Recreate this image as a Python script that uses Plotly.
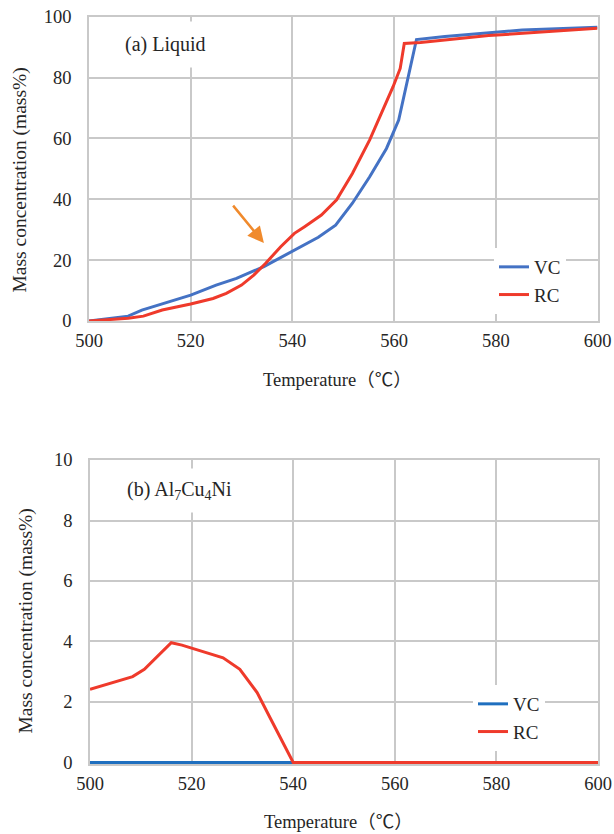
import plotly.graph_objects as go

# ---- (a) Liquid phase ----
liq_vc_temp = [500, 507.7, 510.4, 515, 520, 525, 529, 534.4, 540, 545.1, 548.5, 551.8,
               555.2, 558.5, 560.9, 562.5, 564.4, 570, 579.9, 585.2, 600]
liq_vc_mass = [0, 1.6, 3.6, 6.0, 8.5, 11.8, 14.0, 17.9, 22.8, 27.5, 31.5, 38.7,
               47.4, 56.7, 66.0, 78.0, 92.5, 93.5, 94.9, 95.6, 96.5]

liq_rc_temp = [500, 507.7, 510.7, 514.4, 520, 524.4, 527, 530, 532.4, 534.7, 537.7, 540.4,
               542.4, 545.7, 548.7, 551.8, 555.2, 557.8, 559.8, 561.2, 562, 565.2, 578.6, 600]
liq_rc_mass = [0, 0.9, 1.6, 3.6, 5.6, 7.4, 9.1, 11.8, 15.1, 18.9, 24.4, 28.8,
               31.0, 34.8, 39.8, 48.5, 59.5, 69.3, 77.0, 83.0, 91.2, 91.5, 93.8, 96.2]

# ---- (b) Al7Cu4Ni phase ----
al_vc_temp = [500, 520, 540, 560, 580, 600]
al_vc_mass = [0, 0, 0, 0, 0, 0]

al_rc_temp = [500, 508.4, 510.7, 516, 518.1, 520.8, 526.2, 529.5, 532.9, 535.6, 540, 560, 580, 600]
al_rc_mass = [2.42, 2.84, 3.08, 3.96, 3.88, 3.74, 3.46, 3.08, 2.31, 1.43, 0, 0, 0, 0]

temp_ticks = [500, 520, 540, 560, 580, 600]
liq_ticks = [0, 20, 40, 60, 80, 100]
al_ticks = [0, 2, 4, 6, 8, 10]

W, H = 614, 834
FONT = "Liberation Serif, Noto Sans CJK JP, serif"
TXT = "#262626"
GRID = "#C9C9C9"
RED = "#EF3A2B"


def px(x):
    return x / W


def py(y):
    return 1 - y / H


fig = go.Figure()

fig.add_trace(go.Scatter(x=liq_vc_temp, y=liq_vc_mass, mode="lines", name="VC",
                         line=dict(color="#4472C4", width=3), xaxis="x", yaxis="y",
                         legend="legend"))
fig.add_trace(go.Scatter(x=liq_rc_temp, y=liq_rc_mass, mode="lines", name="RC",
                         line=dict(color=RED, width=3), xaxis="x", yaxis="y",
                         legend="legend"))
fig.add_trace(go.Scatter(x=al_vc_temp, y=al_vc_mass, mode="lines", name="VC",
                         line=dict(color="#1F6FBF", width=3), xaxis="x2", yaxis="y2",
                         legend="legend2"))
fig.add_trace(go.Scatter(x=al_rc_temp, y=al_rc_mass, mode="lines", name="RC",
                         line=dict(color=RED, width=3), xaxis="x2", yaxis="y2",
                         legend="legend2"))

axis_common = dict(showgrid=True, gridcolor=GRID, gridwidth=1.5, zeroline=False,
                   showline=True, linecolor=GRID, linewidth=1.5, mirror=True,
                   ticks="outside", tickcolor="rgba(0,0,0,0)",
                   tickfont=dict(family=FONT, size=18.5, color=TXT))

fig.update_layout(
    width=W, height=H,
    margin=dict(l=0, r=0, t=0, b=0, pad=0, autoexpand=False),
    paper_bgcolor="white", plot_bgcolor="white",
    font=dict(family=FONT, size=18, color=TXT),
    xaxis=dict(domain=[px(89), px(597.5)], range=[500, 600], tickvals=temp_ticks,
               ticklen=2, anchor="y", **axis_common),
    yaxis=dict(domain=[py(321), py(16.7)], range=[0, 100], tickvals=liq_ticks,
               ticklen=12, anchor="x", **axis_common),
    xaxis2=dict(domain=[px(90), px(598)], range=[500, 600], tickvals=temp_ticks,
                ticklen=2, anchor="y2", **axis_common),
    yaxis2=dict(domain=[py(764), py(460)], range=[-0.05, 10], tickvals=al_ticks,
                ticklen=12, anchor="x2", **axis_common),
    legend=dict(x=px(494), y=py(248), xanchor="left", yanchor="top",
                bgcolor="white", font=dict(family=FONT, size=19, color=TXT),
                tracegroupgap=0, itemwidth=30),
    legend2=dict(x=px(473), y=py(685), xanchor="left", yanchor="top",
                 bgcolor="white", font=dict(family=FONT, size=19, color=TXT),
                 tracegroupgap=0, itemwidth=30),
)


def label(text, x, y, size=18, angle=0, **extra):
    return dict(text=text, x=px(x), y=py(y), xref="paper", yref="paper",
                xanchor="center", yanchor="middle", showarrow=False,
                textangle=angle, font=dict(family=FONT, size=size, color=TXT), **extra)


annotations = [
    label("(a) Liquid", 165.5, 44, size=20, bgcolor="white", borderpad=11),
    label("(b) Al<sub>7</sub>Cu<sub>4</sub>Ni", 179, 490, size=20, bgcolor="white",
          borderpad=9),
    label("Temperature（℃）", 337, 380, size=18.5),
    label("Temperature（℃）", 338, 822, size=18.5),
    label("Mass concentration (mass%)", 19, 180.5, size=19.5, angle=-90),
    label("Mass concentration (mass%)", 25, 621.5, size=19.5, angle=-90),
    # orange arrow pointing at the crossing of the two curves
    dict(x=534.4, y=25.6, xref="x", yref="y", ax=528.1, ay=38.4, axref="x", ayref="y",
         showarrow=True, arrowhead=2, arrowsize=1.3, arrowwidth=2.5,
         arrowcolor="#F08A2C", text=""),
]
fig.update_layout(annotations=annotations)

fig.write_html("out.html")
